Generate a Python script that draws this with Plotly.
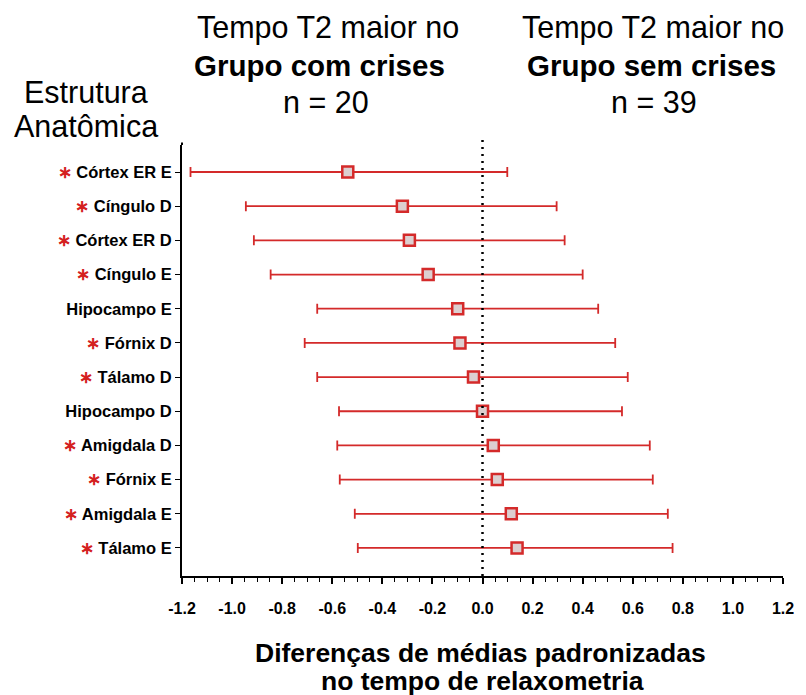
import plotly.graph_objects as go

# ---- data ----
structures = ["Córtex ER E", "Cíngulo D", "Córtex ER D", "Cíngulo E", "Hipocampo E",
              "Fórnix D", "Tálamo D", "Hipocampo D", "Amigdala D", "Fórnix E",
              "Amigdala E", "Tálamo E"]
significant = [True, True, True, True, False, True, True, False, True, True, True, True]
mean_diff = [-0.538, -0.320, -0.292, -0.217, -0.099, -0.090, -0.036, 0.000, 0.043, 0.059, 0.115, 0.138]
ci_lower = [-1.166, -0.945, -0.913, -0.846, -0.660, -0.710, -0.660, -0.573, -0.580, -0.570, -0.510, -0.498]
ci_upper = [0.099, 0.296, 0.328, 0.400, 0.462, 0.530, 0.580, 0.557, 0.668, 0.680, 0.740, 0.759]
x_ticks = [-1.2, -1.0, -0.8, -0.6, -0.4, -0.2, 0.0, 0.2, 0.4, 0.6, 0.8, 1.0, 1.2]

RED = "#d42a2a"
W, H = 806, 695
L, R, T, B = 182, 789, 145, 576

ticktext = [("<span style='color:#d42020;font-size:17px'>∗</span> " if s else "") + n
            for n, s in zip(structures, significant)]

fig = go.Figure()
fig.add_trace(go.Scatter(
    x=mean_diff, y=structures, mode="markers",
    marker=dict(symbol="square", size=11, color="#dccfd0",
                line=dict(color=RED, width=2.5)),
    error_x=dict(type="data", symmetric=False,
                 array=[u - m for u, m in zip(ci_upper, mean_diff)],
                 arrayminus=[m - l for m, l in zip(mean_diff, ci_lower)],
                 color=RED, thickness=1.8, width=5),
    showlegend=False, hoverinfo="skip"))

fig.add_shape(type="line", xref="x", yref="paper", x0=0, x1=0, y0=0, y1=1.015,
              line=dict(color="black", width=2.5, dash="2px,5px"))

def px(xp):
    return (xp - L) / (R - L)

def py(yp):
    return (B - yp) / (B - T)

def ann(text, x, y, size, bold=False):
    fig.add_annotation(text=text, xref="paper", yref="paper", x=px(x), y=py(y),
                       xanchor="center", yanchor="middle", showarrow=False,
                       font=dict(family="Arial", size=size, color="black",
                                 weight="bold" if bold else "normal"))

ann("Tempo T2 maior no", 329, 27, 30.5)
ann("Grupo com crises", 321, 66, 29.5, True)
ann("n = 20", 327, 102, 30.5)
ann("Tempo T2 maior no", 658, 27, 30.5)
ann("Grupo sem crises", 656, 66, 29.5, True)
ann("n = 39", 659, 102, 30.5)
ann("Estrutura", 85, 92, 30.5)
ann("Anatômica", 85, 126, 30.5)
ann("Diferenças de médias padronizadas", 483, 653, 26.5, True)
ann("no tempo de relaxometria", 485, 681, 26.5, True)

fig.update_layout(
    width=W, height=H,
    margin=dict(l=L, r=W - R, t=T, b=H - B, pad=0),
    paper_bgcolor="white", plot_bgcolor="white",
    font=dict(family="Arial", color="black"),
    xaxis=dict(range=[-1.2, 1.2], tickvals=x_ticks,
               ticktext=[f"{v:.1f}" for v in x_ticks],
               showgrid=False, zeroline=False, showline=True,
               linecolor="black", linewidth=2, ticks="outside", ticklen=6,
               tickwidth=1.5, tickcolor="black",
               tickfont=dict(size=16, weight="bold"), ticklabelstandoff=11,
               minor=dict(dtick=0.05, tick0=0, ticks="outside", ticklen=4,
                          tickwidth=1.2, tickcolor="black", showgrid=False)),
    yaxis=dict(type="category", categoryorder="array", categoryarray=structures,
               range=[11.82, -0.79], tickvals=structures, ticktext=ticktext,
               showgrid=False, zeroline=False, showline=True,
               linecolor="black", linewidth=2, ticks="outside", ticklen=5,
               tickwidth=1.2, tickcolor="black",
               tickfont=dict(size=16.5, weight="bold")),
)
fig.add_shape(type="line", xref="paper", yref="paper", x0=0, x1=0, y0=1, y1=1.006,
              line=dict(color="black", width=2))

fig.write_html("out.html", config={"displayModeBar": False},
               post_script="document.body.style.margin='0';document.body.style.padding='0';")
